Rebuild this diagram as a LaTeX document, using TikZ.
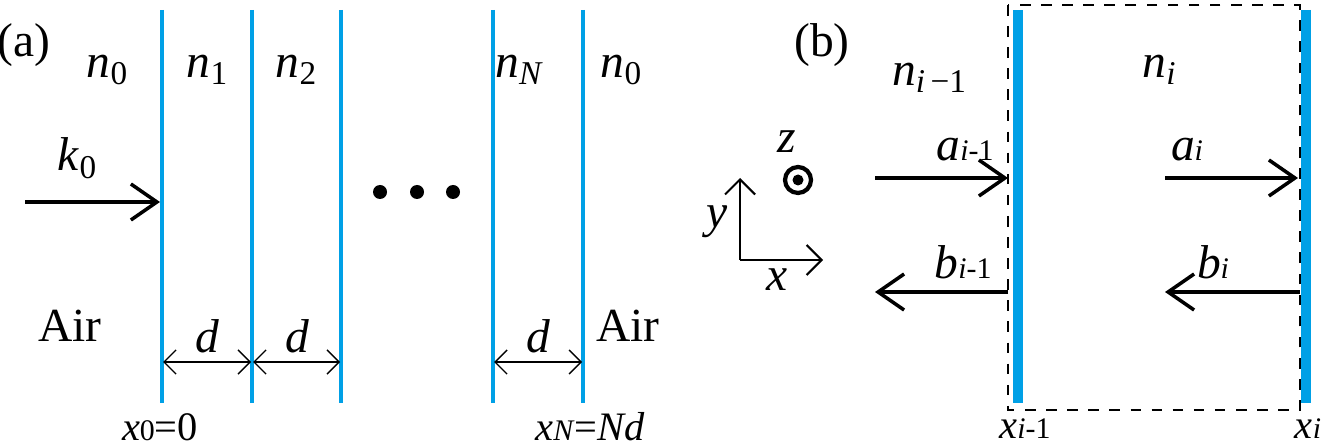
\documentclass[tikz,border=0pt]{standalone}
\usepackage{fontspec}
\setmainfont{Liberation Serif}
\usetikzlibrary{arrows.meta}
\tikzset{
  iface/.style={color={rgb,255:red,0;green,160;blue,230}, line width=0.9pt},
  thickiface/.style={color={rgb,255:red,0;green,160;blue,230}, line width=2.6pt},
  wave/.style={-{Straight Barb[length=2.6mm,width=3.6mm]}, line width=1pt},
  dimarrow/.style={{Straight Barb[length=1.2mm]}-{Straight Barb[length=1.2mm]}, line width=0.4pt},
  lbl/.style={font=\fontsize{13.5}{15}\selectfont, inner sep=0pt},
  sublbl/.style={font=\fontsize{11.5}{13}\selectfont, inner sep=0pt}
}
\newcommand{\nidx}[1]{\textit{n}\textsubscript{#1}}
\newcommand{\smallidx}[1]{{\fontsize{8.5}{9}\selectfont#1}}
\begin{document}
\begin{tikzpicture}[x=0.01cm,y=-0.01cm]
    \useasboundingbox (0,0) rectangle (1325,446);
    % (a) layered stack
    \node[lbl] (la) at (24,45) {(a)};
    \foreach \xx in {162,252,341,493,583}
        \draw [iface] (\xx,10) -- (\xx,403);
    \node[lbl] (n0l) at (108,70) {\nidx{0}};
    \node[lbl] (n1) at (208,70) {\nidx{1}};
    \node[lbl] (n2) at (297,70) {\nidx{2}};
    \node[lbl] (nN) at (520,70) {\textit{n}\textsubscript{\textit{N}}};
    \node[lbl] (n0r) at (622,70) {\nidx{0}};
    \node[lbl] (k0) at (78,158) {\textit{k}\textsubscript{0}};
    \draw [wave] (25,202) -- (160,202);
    \foreach \xx in {380,417,453}
        \fill (\xx,192) circle (7);
    \node[lbl] (air1) at (70,326) {Air};
    \node[lbl] (air2) at (628,326) {Air};
    \draw [dimarrow] (163,362) -- (251,362);
    \draw [dimarrow] (253,362) -- (340,362);
    \draw [dimarrow] (494,362) -- (582,362);
    \node[lbl] (d1) at (207,336) {\textit{d}};
    \node[lbl] (d2) at (297,336) {\textit{d}};
    \node[lbl] (d3) at (538,336) {\textit{d}};
    \node[sublbl] (x0) at (160,427) {\textit{x}\smallidx{0}=0};
    \node[sublbl] (xN) at (590,427) {\textit{x}\smallidx{\textit{N}}=\textit{Nd}};
    % (b) single layer
    \node[lbl] (lb) at (822,45) {(b)};
    \draw [dashed, line width=0.6pt] (1008,5) rectangle (1300,410);
    \draw [thickiface] (1018,10) -- (1018,403);
    \draw [thickiface] (1306,10) -- (1306,403);
    \node[lbl] (nim) at (930,78) {\textit{n}\textsubscript{\textit{i}\,\textminus1}};
    \node[lbl] (nii) at (1160,70) {\nidx{\textit{i}}};
    \node[lbl] (am) at (965,150) {\textit{a}\smallidx{\textit{i}-1}};
    \draw [wave] (875,178) -- (1008,178);
    \node[lbl] (ai) at (1187,150) {\textit{a}\smallidx{\textit{i}}};
    \draw [wave] (1165,178) -- (1298,178);
    \node[lbl] (bm) at (963,262) {\textit{b}\smallidx{\textit{i}-1}};
    \draw [wave] (1008,292) -- (875,292);
    \node[lbl] (bi) at (1213,262) {\textit{b}\smallidx{\textit{i}}};
    \draw [wave] (1300,292) -- (1165,292);
    % axes
    \coordinate (o) at (740,260);
    \draw [-{Straight Barb[length=1.5mm]}, line width=0.6pt] (o) -- (740,178);
    \draw [-{Straight Barb[length=1.5mm]}, line width=0.6pt] (o) -- (823,260);
    \node[lbl] (ly) at (717,222) {\textit{y}};
    \node[lbl] (lx) at (777,280) {\textit{x}};
    \node[lbl] (lz) at (787,142) {\textit{z}};
    \draw [line width=1.2pt] (798,180) circle (13);
    \fill (798,180) circle (5.5);
    \node[sublbl] (xim) at (1025,429) {\textit{x}\smallidx{\textit{i}-1}};
    \node[sublbl] (xii) at (1308,429) {\textit{x}\smallidx{\textit{i}}};
\end{tikzpicture}
\end{document}
